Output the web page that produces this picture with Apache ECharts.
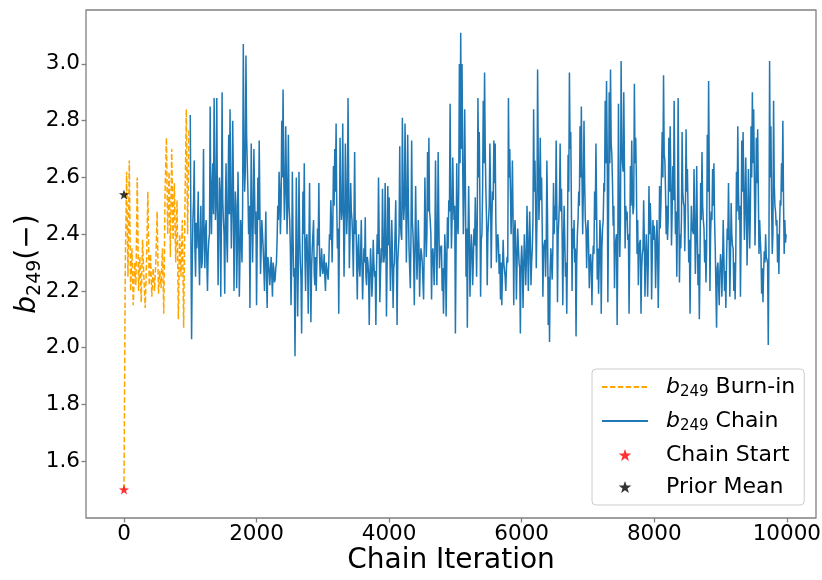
<!DOCTYPE html>
<html>
<head>
<meta charset="utf-8">
<script src="https://cdn.jsdelivr.net/npm/echarts@6/dist/echarts.min.js"></script>
<style>
html,body{margin:0;padding:0;background:#fff;}
#chart{width:822px;height:580px;}
</style>
</head>
<body>
<div id="chart"></div>
<script>
// ---- data ----
var burnStart = 0, burnStep = 20;
var burnValues = [1.50,2.30,2.62,2.25,2.66,2.20,2.35,2.15,2.30,2.22,
  2.60,2.20,2.32,2.16,2.38,2.25,2.14,2.30,2.55,2.22,
  2.33,2.18,2.28,2.20,2.30,2.48,2.19,2.27,2.21,2.35,
  2.12,2.55,2.74,2.40,2.62,2.32,2.70,2.38,2.58,2.30,
  2.52,2.10,2.40,2.25,2.45,2.07,2.50,2.84,2.40,2.77];
var chainStart = 1000, chainStep = 10;
var chainValues = [
  2.82,2.38,2.03,2.30,2.45,2.52,2.66,2.35,2.25,2.44,
  2.35,2.42,2.55,2.33,2.22,2.40,2.50,2.28,2.30,2.46,
  2.70,2.36,2.28,2.42,2.45,2.30,2.20,2.33,2.38,2.40,
  2.85,2.50,2.40,2.58,2.65,2.47,2.88,2.60,2.45,2.52,
  2.88,2.48,2.22,2.40,2.60,2.55,2.18,2.45,2.90,2.52,
  2.45,2.40,2.19,2.50,2.65,2.38,2.30,2.55,2.75,2.47,
  2.84,2.55,2.35,2.48,2.80,2.60,2.20,2.42,2.55,2.50,
  2.21,2.35,2.62,2.45,2.18,2.32,2.45,2.40,2.30,2.50,
  3.07,2.70,2.55,2.62,3.03,2.75,2.65,2.55,2.40,2.50,
  2.14,2.40,2.72,2.50,2.30,2.45,2.70,2.55,2.40,2.48,
  2.15,2.38,2.60,2.45,2.73,2.50,2.26,2.35,2.45,2.40,
  2.35,2.28,2.20,2.35,2.48,2.25,2.14,2.32,2.30,2.27,
  2.22,2.27,2.32,2.25,2.18,2.30,2.28,2.23,2.24,2.28,
  2.30,2.38,2.50,2.45,2.62,2.55,2.40,2.50,2.80,2.60,
  2.91,2.62,2.45,2.55,2.78,2.60,2.40,2.52,2.75,2.50,
  2.45,2.35,2.15,2.30,2.62,2.40,2.25,2.28,1.97,2.25,
  2.60,2.35,2.11,2.28,2.62,2.40,2.30,2.25,2.05,2.30,
  2.55,2.40,2.65,2.32,2.20,2.38,2.40,2.30,2.12,2.36,
  2.58,2.30,2.09,2.28,2.35,2.35,2.45,2.26,2.22,2.32,
  2.20,2.30,2.42,2.36,2.58,2.33,2.25,2.28,2.35,2.30,
  2.26,2.28,2.33,2.25,2.20,2.30,2.30,2.26,2.24,2.30,
  2.40,2.38,2.52,2.45,2.30,2.42,2.64,2.50,2.70,2.55,
  2.79,2.50,2.35,2.42,2.12,2.40,2.74,2.52,2.45,2.48,
  2.79,2.50,2.25,2.42,2.72,2.55,2.40,2.48,2.88,2.58,
  2.28,2.40,2.58,2.48,2.45,2.38,2.25,2.45,2.69,2.40,
  2.45,2.30,2.17,2.35,2.40,2.28,2.25,2.33,2.45,2.30,
  2.17,2.27,2.35,2.30,2.46,2.25,2.22,2.32,2.30,2.26,
  2.08,2.25,2.35,2.28,2.18,2.24,2.38,2.30,2.25,2.27,
  2.08,2.28,2.40,2.33,2.60,2.38,2.16,2.26,2.35,2.30,
  2.56,2.38,2.30,2.33,2.58,2.40,2.11,2.30,2.57,2.36,
  2.53,2.35,2.20,2.30,2.45,2.33,2.14,2.28,2.30,2.30,
  2.52,2.33,2.08,2.30,2.35,2.40,2.71,2.45,2.40,2.38,
  2.81,2.55,2.45,2.50,2.79,2.58,2.30,2.45,2.75,2.52,
  2.35,2.35,2.21,2.40,2.73,2.45,2.40,2.32,2.15,2.36,
  2.57,2.38,2.24,2.32,2.45,2.36,2.18,2.30,2.35,2.33,
  2.30,2.30,2.17,2.36,2.60,2.42,2.32,2.40,2.69,2.48,
  2.74,2.48,2.45,2.40,2.17,2.33,2.35,2.30,2.22,2.35,
  2.66,2.42,2.22,2.38,2.69,2.45,2.28,2.35,2.35,2.36,
  2.20,2.28,2.12,2.25,2.40,2.32,2.11,2.30,2.46,2.35,
  2.52,2.48,2.86,2.55,2.35,2.45,2.67,2.52,2.45,2.50,
  2.05,2.35,2.65,2.45,2.40,2.55,3.00,2.65,3.11,2.70,
  3.00,2.65,2.40,2.55,2.84,2.60,2.25,2.42,2.07,2.38,
  2.57,2.38,2.18,2.32,2.40,2.35,2.22,2.30,2.42,2.36,
  2.53,2.40,2.25,2.45,2.88,2.60,2.76,2.50,2.18,2.38,
  2.40,2.55,2.87,2.65,2.97,2.70,2.55,2.45,2.22,2.40,
  2.45,2.50,2.72,2.55,2.28,2.45,2.55,2.52,2.73,2.58,
  2.72,2.45,2.30,2.38,2.40,2.36,2.26,2.33,2.17,2.30,
  2.15,2.27,2.38,2.30,2.30,2.25,2.20,2.28,2.32,2.30,
  2.88,2.60,2.70,2.55,2.40,2.50,2.66,2.45,2.15,2.40,
  2.45,2.35,2.17,2.30,2.42,2.36,2.30,2.28,2.05,2.30,
  2.36,2.30,2.14,2.28,2.40,2.33,2.22,2.30,2.50,2.38,
  2.20,2.33,2.48,2.38,2.22,2.30,2.35,2.45,2.84,2.55,
  2.66,2.50,2.28,2.45,2.98,2.65,2.45,2.55,2.74,2.52,
  2.60,2.42,2.18,2.35,2.35,2.38,2.25,2.36,2.66,2.45,
  2.08,2.25,2.02,2.28,2.35,2.30,2.24,2.35,2.58,2.40,
  2.50,2.45,2.73,2.50,2.16,2.40,2.45,2.52,2.72,2.48,
  2.56,2.40,2.15,2.36,2.50,2.38,2.25,2.30,2.12,2.35,
  2.68,2.55,2.97,2.70,2.76,2.50,2.20,2.42,2.35,2.45,
  2.30,2.35,2.04,2.30,2.40,2.45,2.55,2.50,2.78,2.60,
  2.85,2.60,2.40,2.55,2.80,2.58,2.45,2.42,2.28,2.40,
  2.45,2.35,2.21,2.30,2.33,2.28,2.15,2.30,2.36,2.33,
  2.55,2.45,2.72,2.50,2.24,2.35,2.19,2.30,2.45,2.40,
  2.12,2.35,2.42,2.45,2.58,2.55,2.87,2.65,2.94,2.70,
  2.16,2.45,2.90,2.65,2.98,2.72,2.68,2.58,2.43,2.50,
  2.21,2.35,2.38,2.40,2.08,2.35,2.86,2.50,2.32,2.45,
  3.01,2.70,2.65,2.62,2.90,2.65,2.35,2.50,2.45,2.48,
  2.38,2.40,2.12,2.35,2.64,2.50,2.73,2.55,2.47,2.50,
  2.93,2.65,2.74,2.60,2.33,2.45,2.22,2.35,2.37,2.38,
  2.12,2.28,2.33,2.35,2.52,2.38,2.18,2.30,2.40,2.33,
  2.18,2.30,2.57,2.40,2.51,2.42,2.17,2.33,2.45,2.38,
  2.43,2.38,2.21,2.33,2.45,2.36,2.14,2.30,2.57,2.42,
  2.50,2.50,2.76,2.60,2.96,2.68,2.66,2.55,2.40,2.50,
  2.38,2.45,2.74,2.55,2.78,2.60,2.36,2.48,2.64,2.52,
  2.87,2.58,2.40,2.48,2.25,2.45,2.88,2.55,2.23,2.40,
  2.35,2.45,2.76,2.55,2.51,2.50,2.34,2.48,2.77,2.55,
  2.63,2.48,2.30,2.38,2.12,2.35,2.50,2.42,2.42,2.40,
  2.63,2.45,2.26,2.38,2.64,2.42,2.22,2.33,2.10,2.30,
  2.58,2.45,2.69,2.50,2.45,2.42,2.30,2.38,2.23,2.35,
  2.75,2.55,2.94,2.60,2.20,2.40,2.48,2.45,2.63,2.50,
  2.65,2.45,2.35,2.35,2.07,2.28,2.30,2.30,2.15,2.27,
  2.33,2.30,2.18,2.28,2.45,2.33,2.20,2.27,2.14,2.30,
  2.42,2.38,2.58,2.40,2.18,2.32,2.51,2.40,2.36,2.35,
  2.20,2.30,2.17,2.33,2.62,2.48,2.78,2.55,2.45,2.50,
  2.18,2.40,2.73,2.55,2.76,2.58,2.38,2.48,2.67,2.52,
  2.29,2.42,2.63,2.50,2.35,2.48,2.78,2.60,2.90,2.65,
  2.84,2.60,2.36,2.52,2.74,2.58,2.77,2.55,2.33,2.45,
  2.38,2.33,2.19,2.28,2.16,2.27,2.34,2.30,2.40,2.32,
  2.31,2.30,2.01,2.35,3.01,2.60,2.78,2.50,2.33,2.40,
  2.87,2.58,2.50,2.48,2.43,2.45,2.30,2.40,2.26,2.42,
  2.52,2.50,2.65,2.55,2.80,2.52,2.33,2.45,2.37,2.40
];
var chainStartPoint = [0, 1.5];
var priorMeanPoint = [0, 2.54];
var xTicks = [0, 2000, 4000, 6000, 8000, 10000];
var yTicks = [1.6, 1.8, 2.0, 2.2, 2.4, 2.6, 2.8, 3.0];
var names = ['burn', 'chain', 'Chain Start', 'Prior Mean'];

// ---- build ----
function toPairs(start, step, vals) {
  return vals.map(function (v, i) { return [start + i * step, v]; });
}
var STAR = 'path://M0,-10L2.35,-3.24L9.51,-3.09L3.8,1.24L5.88,8.09L0,4L-5.88,8.09L-3.8,1.24L-9.51,-3.09L-2.35,-3.24Z';
var FONT = 'DejaVu Sans';
var chart = echarts.init(document.getElementById('chart'), null, {renderer: 'canvas'});
var legendRich = {
  i: {fontFamily: FONT, fontStyle: 'italic', fontSize: 22, lineHeight: 26, color: '#000'},
  s: {fontFamily: FONT, fontSize: 15, lineHeight: 16, verticalAlign: 'bottom', color: '#000'},
  t: {fontFamily: FONT, fontSize: 22, lineHeight: 26, color: '#000'}
};
chart.setOption({
  animation: false,
  backgroundColor: '#fff',
  grid: {left: 86, right: 6, top: 10, bottom: 62, show: true, borderColor: '#808080', borderWidth: 1.3, outerBoundsMode: 'none'},
  xAxis: {
    type: 'value', min: -573, max: 10440,
    name: 'Chain Iteration', nameLocation: 'middle', nameGap: 28, nameMoveOverlap: false,
    nameTextStyle: {fontFamily: FONT, fontSize: 28, color: '#000', lineHeight: 30},
    axisLine: {show: false, onZero: false},
    axisTick: {show: true, length: 4.5, lineStyle: {color: '#808080', width: 1.3}, customValues: xTicks},
    axisLabel: {fontFamily: FONT, fontSize: 21.5, color: '#000', margin: 5, customValues: xTicks,
      formatter: function (v) { return String(v); }},
    splitLine: {show: false}
  },
  yAxis: {
    type: 'value', min: 1.40, max: 3.19,
    name: '{i|b}{s|249}{t|(−)}', nameLocation: 'middle', nameGap: 41, nameRotate: 90, nameMoveOverlap: false,
    nameTextStyle: {
      rich: {
        i: {fontFamily: FONT, fontStyle: 'italic', fontSize: 28, lineHeight: 34, color: '#000'},
        s: {fontFamily: FONT, fontSize: 19, lineHeight: 20, verticalAlign: 'bottom', color: '#000'},
        t: {fontFamily: FONT, fontSize: 28, lineHeight: 34, color: '#000'}
      }
    },
    axisLine: {show: false, onZero: false},
    axisTick: {show: true, length: 4.5, lineStyle: {color: '#808080', width: 1.3}, customValues: yTicks},
    axisLabel: {fontFamily: FONT, fontSize: 21.5, color: '#000', margin: 6, customValues: yTicks,
      formatter: function (v) { return v.toFixed(1); }},
    splitLine: {show: false}
  },
  legend: {
    orient: 'vertical', left: 592, top: 369,
    padding: [7, 9, 7, 9], itemGap: 10, itemWidth: 46, itemHeight: 12,
    backgroundColor: 'rgba(255,255,255,0.8)', borderColor: '#cccccc', borderWidth: 1, borderRadius: 4,
    textStyle: {fontFamily: FONT, fontSize: 22, color: '#000', padding: [0, 0, 0, 13], rich: legendRich},
    data: [
      {name: 'burn', itemStyle: {opacity: 0}},
      {name: 'chain', itemStyle: {opacity: 0}},
      'Chain Start', 'Prior Mean'
    ],
    formatter: function (n) {
      if (n === 'burn') return '{i|b}{s|249}{t| Burn-in}';
      if (n === 'chain') return '{i|b}{s|249}{t| Chain}';
      return '{t|' + n + '}';
    }
  },
  series: [
    {name: 'burn', type: 'line', data: toPairs(burnStart, burnStep, burnValues), symbol: 'none',
      lineStyle: {color: '#ffa500', width: 1.5, type: [5.5, 2.4]}, itemStyle: {color: '#ffa500'}, z: 3},
    {name: 'chain', type: 'line', data: toPairs(chainStart, chainStep, chainValues), symbol: 'none',
      lineStyle: {color: '#1f77b4', width: 1.5}, itemStyle: {color: '#1f77b4'}, z: 2},
    {name: 'Chain Start', type: 'scatter', data: [chainStartPoint], symbol: STAR, symbolSize: [10, 10],
      itemStyle: {color: '#ff0000'}, z: 5},
    {name: 'Prior Mean', type: 'scatter', data: [priorMeanPoint], symbol: STAR, symbolSize: [10, 10],
      itemStyle: {color: '#000000'}, z: 5}
  ]
});
</script>
</body>
</html>
